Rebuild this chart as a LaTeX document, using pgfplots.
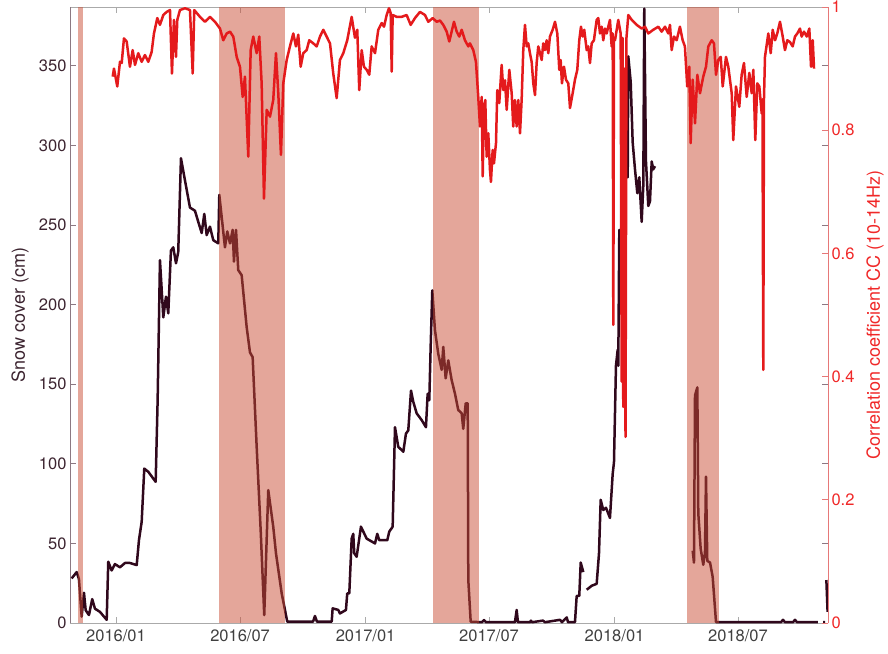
\documentclass[border=0pt]{standalone}
\usepackage{fontspec}
\setmainfont{TeX Gyre Heros}
\usepackage{pgfplots}
\pgfplotsset{compat=1.18}

\definecolor{snowc}{RGB}{48,8,28}
\definecolor{corrc}{RGB}{228,26,28}
\definecolor{bandc}{RGB}{201,77,53}
\definecolor{axgray}{RGB}{170,170,170}
\definecolor{spinedark}{RGB}{140,120,130}
\definecolor{labgray}{RGB}{64,64,64}
\definecolor{leftlab}{RGB}{60,36,48}
\definecolor{redspine}{RGB}{230,120,120}
\definecolor{redlab}{RGB}{240,40,40}

\newcommand{\tickfont}{\fontsize{16.5}{19}\selectfont}
\newcommand{\labfont}{\fontsize{18}{21}\selectfont}

% days counted from 2016-01-01
\pgfplotstableread{
day snow
-65.0 28
-57.6 32
-54.3 27.6
-50.3 4
-46.9 19
-44.4 8
-39.6 5
-34.8 15
-30.8 9
-23.5 7
-13.6 2
-11.3 38.5
-6.3 33
-1.5 37
5.9 35
13.2 37.7
20.5 37.7
30.4 36.4
33.7 52
37.7 63.6
41.5 97
47.4 95
58.2 88.7
61.1 140
64.5 228
69.4 192
73.3 205
76.7 194.5
80.6 234
84.0 236
88.0 226
91.3 233
95.3 292
101.2 278
108.5 261
115.8 259
120.7 252
125.7 245
129.5 257
133.0 243.7
137.8 249
142.7 240.5
150.0 238.5
151.5 269
159.8 236
163.2 246
167.2 238.5
171.1 247
173.0 227
176.0 247
179.3 221.7
184.3 218.5
191.6 186
196.5 170
200.4 167
206.3 110.7
212.2 58
217.4 5
223.3 83.5
230.6 60.5
234.6 43.8
243.0 18.6
251.2 0.8
288.9 0.8
291.8 4.4
294.7 0.8
316.3 0.8
317.7 9.2
326.0 8.2
328.4 6
337.2 8.2
339.1 18.6
342.1 18.6
345.6 53
347.9 56
349.4 43.8
352.9 41.6
359.2 60.5
367.6 53
379.8 50
383.1 56
386.1 52
397.8 52
400.7 57.4
405.7 60.5
409.1 123
413.9 110.7
421.3 107.6
425.2 119
428.6 121
432.6 146
435.9 139
440.9 131.7
448.2 127.5
454.5 123
457.0 144
459.4 140
461.4 173.5
463.8 209
467.7 184
472.6 169
477.6 159
479.9 173.5
483.4 153.7
487.2 165
492.2 152.6
497.1 144
501.9 133.8
506.9 131.7
509.2 122
512.8 138
515.7 138
516.6 27
520.1 0.8
536.7 0.5
539.6 1.8
542.5 0.5
585.0 0.5
587.5 8.2
589.4 0.5
607.0 0.5
608.5 1.5
610.0 0.5
626.1 1.5
629.0 0.5
651.0 2
654.0 0.5
660.9 3.5
662.8 0.5
673.0 0.5
675.5 17
679.3 17
681.4 38
685.2 32
nan nan
690.2 20.9
697.5 23.4
704.8 24.6
708.2 43.5
710.7 77.4
714.5 71
718.5 72.4
724.3 66
728.3 93.7
730.2 101
733.1 161.6
735.6 171.6
736.5 161.6
738.0 247
741.5 234.5
746.3 315
750.3 280
751.2 356
754.7 340
757.6 302
761.0 285
764.4 270
767.3 280
770.8 252
773.2 275
774.6 386
777.1 290
780.5 262
783.0 265
785.5 290
787.8 285
790.3 287
nan nan
845.6 45.4
847.5 37.9
849.0 143
852.4 148
853.8 69
857.3 46.7
861.1 36.6
863.6 44
865.1 92
867.0 39
871.0 38
874.9 29
879.8 0.5
975.1 0.5
978.0 2
980.9 0.5
992.7 0.5
995.6 2
998.5 0.5
1029.3 0.5
nan nan
1036.7 0.5
1039.6 0.5
nan nan
1041.6 27
1043.4 7
}\snowdata

\pgfplotstableread{
day cc
-4.8 0.887
-2.9 0.900
1.9 0.871
5.9 0.911
8.4 0.909
11.7 0.949
15.7 0.944
20.5 0.903
24.5 0.930
27.9 0.906
32.7 0.925
37.7 0.911
42.5 0.922
47.4 0.911
52.3 0.927
55.7 0.957
60.6 0.982
64.5 0.971
69.4 0.987
74.3 0.992
79.2 0.995
82.1 0.892
85.0 0.979
88.0 0.919
89.9 0.979
93.8 0.995
101.2 0.998
108.5 0.995
112.5 0.892
114.8 0.995
123.2 0.984
130.5 0.976
137.8 0.984
145.2 0.976
152.5 0.965
157.3 0.946
162.3 0.957
167.2 0.960
172.0 0.952
177.0 0.919
181.8 0.903
185.8 0.854
189.1 0.887
194.0 0.757
197.5 0.930
201.3 0.952
206.3 0.925
210.1 0.952
213.6 0.876
217.0 0.689
221.0 0.833
225.8 0.822
230.6 0.849
234.6 0.925
238.0 0.860
241.9 0.760
245.3 0.876
250.3 0.914
255.1 0.936
260.0 0.957
263.9 0.936
267.3 0.955
270.8 0.903
274.6 0.925
279.6 0.930
283.4 0.946
289.3 0.941
294.3 0.936
299.1 0.952
304.0 0.963
308.9 0.952
313.8 0.941
318.6 0.892
323.6 0.852
328.4 0.914
333.3 0.925
339.1 0.946
345.6 0.984
350.4 0.950
353.8 0.963
356.7 0.865
360.3 0.930
363.6 0.903
367.6 0.898
371.4 0.890
374.9 0.936
379.8 0.925
384.6 0.963
389.6 0.974
393.0 0.968
396.9 0.987
400.3 0.998
402.8 0.990
404.3 0.895
405.7 0.987
411.6 0.984
418.9 0.984
426.2 0.987
432.1 0.971
438.4 0.982
445.7 0.992
453.1 0.987
457.9 0.976
464.4 0.982
470.2 0.976
475.1 0.978
479.9 0.971
484.9 0.960
488.7 0.944
495.6 0.976
499.6 0.960
503.4 0.952
506.9 0.963
511.7 0.946
516.6 0.936
519.0 0.941
523.9 0.930
527.8 0.911
531.2 0.854
533.7 0.806
536.2 0.854
537.7 0.725
539.6 0.838
541.5 0.849
543.5 0.757
545.9 0.795
548.4 0.735
549.8 0.716
552.3 0.768
554.2 0.746
557.2 0.779
559.1 0.865
562.0 0.844
565.5 0.906
567.9 0.865
570.4 0.881
572.9 0.833
576.7 0.898
580.2 0.860
582.5 0.806
585.0 0.849
587.5 0.806
589.9 0.849
592.4 0.795
594.8 0.849
597.2 0.930
599.7 0.971
602.2 0.936
604.5 0.941
607.0 0.925
609.5 0.911
611.9 0.876
614.4 0.857
616.8 0.909
619.2 0.936
621.7 0.925
624.2 0.914
626.5 0.941
629.0 0.930
631.5 0.946
633.9 0.925
636.3 0.952
640.3 0.963
643.7 0.976
647.1 0.957
650.0 0.898
652.0 0.914
653.9 0.876
656.9 0.903
659.8 0.882
663.2 0.876
665.7 0.836
669.6 0.860
673.0 0.882
676.4 0.898
679.3 0.946
681.8 0.968
684.3 0.952
686.6 0.963
690.2 0.930
692.5 0.936
695.0 0.909
697.5 0.941
700.8 0.946
704.8 0.979
707.2 0.982
709.7 0.957
712.2 0.968
714.5 0.946
717.0 0.965
719.5 0.957
721.8 0.968
724.3 0.979
726.8 0.936
728.3 0.957
729.2 0.484
730.2 0.950
731.7 0.946
736.5 0.979
740.0 0.957
741.5 0.392
742.7 0.950
743.8 0.351
745.6 0.900
747.1 0.302
748.5 0.950
751.2 0.987
756.2 0.979
763.5 0.971
770.8 0.965
775.7 0.968
780.5 0.957
787.8 0.963
795.2 0.968
800.1 0.960
805.0 0.968
809.8 0.957
812.3 0.971
814.8 0.930
818.2 0.952
822.1 0.946
826.9 0.968
830.9 0.946
834.2 0.936
837.6 0.871
840.6 0.903
842.6 0.779
845.6 0.882
849.0 0.811
852.4 0.890
856.3 0.860
861.1 0.887
865.1 0.903
868.5 0.936
873.5 0.946
876.8 0.941
879.8 0.890
883.1 0.914
886.7 0.919
889.6 0.871
894.4 0.919
897.8 0.903
902.8 0.860
905.1 0.784
909.1 0.871
913.9 0.838
917.4 0.890
920.8 0.909
924.8 0.854
928.6 0.893
932.1 0.860
934.5 0.898
937.4 0.784
940.3 0.876
943.3 0.871
946.8 0.827
947.9 0.850
949.1 0.411
950.1 0.850
951.6 0.919
956.5 0.957
960.0 0.925
962.9 0.963
966.3 0.946
969.6 0.957
973.6 0.976
977.6 0.952
980.9 0.930
984.3 0.946
988.3 0.943
992.2 0.936
995.6 0.952
999.0 0.957
1002.9 0.965
1005.4 0.952
1008.8 0.960
1012.8 0.952
1016.6 0.965
1019.1 0.903
1021.6 0.946
1023.5 0.900
}\ccdata

\begin{document}
\begin{tikzpicture}
\begin{axis}[
  scale only axis, width=758pt, height=616pt,
  xmin=-67.4, xmax=1044, ymin=0, ymax=387,
  separate axis lines,
  x axis line style={draw=axgray, line width=0.8pt},
  y axis line style={draw=spinedark, line width=0.8pt},
  tick align=inside, major tick length=6pt,
  xtick={0,182,366,547,731,912},
  xticklabels={2016/01,2016/07,2017/01,2017/07,2018/01,2018/07},
  xtick pos=both, xticklabel pos=lower,
  ytick={0,50,100,150,200,250,300,350},
  ytick pos=both, yticklabel pos=left,
  x tick style={draw=axgray, line width=0.8pt},
  y tick style={draw=spinedark, line width=0.8pt},
  xticklabel style={font=\tickfont, text=labgray, yshift=-3pt},
  yticklabel style={font=\tickfont, text=leftlab},
  /pgf/number format/assume math mode=true,
  ylabel={Snow cover (cm)},
  every axis y label/.style={at={(axis description cs:-0.066,0.5)}, rotate=90, anchor=center, font=\labfont, text=leftlab},
  unbounded coords=jump,
]
\addplot[snowc, line width=2.5pt, line join=round] table[x=day, y=snow] {\snowdata};
% melt periods
\addplot[draw=none, fill=bandc, fill opacity=0.5] coordinates {(-55.3,0) (-55.3,387) (-48.0,387) (-48.0,0)} -- cycle;
\addplot[draw=none, fill=bandc, fill opacity=0.5] coordinates {(151.0,0) (151.0,387) (247.8,387) (247.8,0)} -- cycle;
\addplot[draw=none, fill=bandc, fill opacity=0.5] coordinates {(464.5,0) (464.5,387) (532.3,387) (532.3,0)} -- cycle;
\addplot[draw=none, fill=bandc, fill opacity=0.5] coordinates {(837.2,0) (837.2,387) (884.2,387) (884.2,0)} -- cycle;
\end{axis}

\begin{axis}[
  scale only axis, width=758pt, height=616pt,
  xmin=-67.4, xmax=1044, ymin=0, ymax=1,
  axis x line=none, axis y line*=right,
  y axis line style={draw=redspine, line width=0.8pt},
  tick align=inside, major tick length=6pt,
  ytick={0,0.2,0.4,0.6,0.8,1},
  yticklabels={0,0.2,0.4,0.6,0.8,1},
  y tick style={draw=redspine, line width=0.8pt},
  yticklabel style={font=\tickfont, text=redlab},
  ylabel={Correlation coefficient CC (10-14Hz)},
  every axis y label/.style={at={(axis description cs:1.062,0.5)}, rotate=90, anchor=center, font=\labfont, text=redlab},
]
\addplot[corrc, line width=2.5pt, line join=round] table[x=day, y=cc] {\ccdata};
\end{axis}
\pgfresetboundingbox
\path (-70pt,-30pt) rectangle (818pt,623pt);
\end{tikzpicture}
\end{document}
